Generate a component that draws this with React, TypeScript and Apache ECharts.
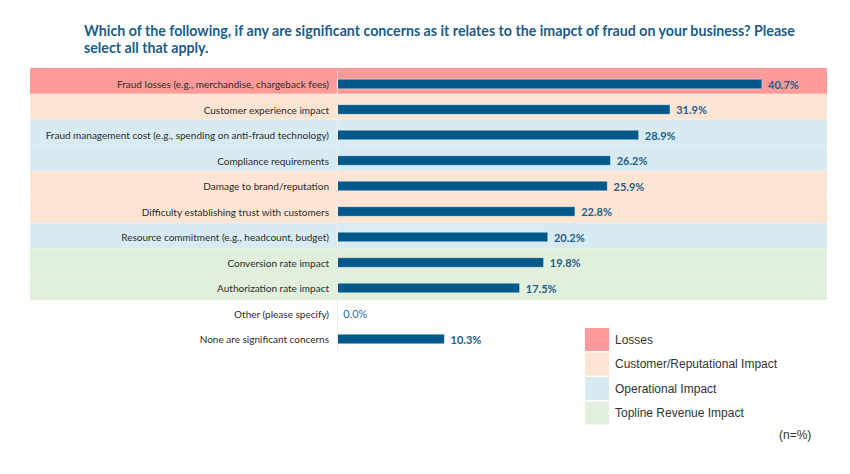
import React, { useEffect, useRef } from "react";
import * as echarts from "echarts";

const categories = [
  "Fraud losses (e.g., merchandise, chargeback fees)",
  "Customer experience impact",
  "Fraud management cost (e.g., spending on anti-fraud technology)",
  "Compliance requirements",
  "Damage to brand/reputation",
  "Difficulty establishing trust with customers",
  "Resource commitment (e.g., headcount, budget)",
  "Conversion rate impact",
  "Authorization rate impact",
  "Other (please specify)",
  "None are significant concerns",
];

const values = [40.7, 31.9, 28.9, 26.2, 25.9, 22.8, 20.2, 19.8, 17.5, 0.0, 10.3];

const groupNames = [
  "Losses",
  "Customer/Reputational Impact",
  "Operational Impact",
  "Topline Revenue Impact",
];
const groupColors = ["#FE9A99", "#FEE5D3", "#D8EBF3", "#E0F0DD"];
// group index for each category (-1 = none)
const categoryGroup = [0, 1, 2, 2, 1, 1, 2, 3, 3, -1, -1];

const titleText =
  "Which of the following, if any are significant concerns as it relates to the imapct of fraud on your business? Please\nselect all that apply.";
const noteText = "(n=%)";

export default function App() {
  const ref = useRef<HTMLDivElement>(null);
  useEffect(() => {
    if (!ref.current) return;
    const chart = echarts.init(ref.current, null, { renderer: "svg" });
    const bandSeries = groupNames.map((name, gi) => ({
      name,
      type: "bar",
      xAxisIndex: 0,
      yAxisIndex: 0,
      barWidth: "100%",
      barGap: "-100%",
      silent: true,
      z: 1,
      itemStyle: {
        color: groupColors[gi],
        borderColor: groupColors[gi],
        borderWidth: 1,
      },
      data: categories.map((_, i) => (categoryGroup[i] === gi ? 1 : "-")),
    }));
    chart.setOption({
      animation: false,
      backgroundColor: "#ffffff",
      title: {
        text: titleText,
        left: 84,
        top: 22,
        padding: 0,
        textStyle: {
          fontFamily: "Lato",
          fontSize: 14.2,
          fontWeight: "bold",
          color: "#1B5C87",
          lineHeight: 17,
        },
      },
      legend: {
        data: groupNames,
        orient: "vertical",
        left: 585,
        top: 328,
        padding: 0,
        itemWidth: 22,
        itemHeight: 21,
        itemGap: 1.5,
        icon: "rect",
        textStyle: {
          fontFamily: "Liberation Sans",
          fontSize: 12,
          color: "#333333",
          padding: [0, 0, 0, 2],
        },
        selectedMode: false,
      },
      grid: [
        { left: 30, width: 797, top: 68, height: 283.8 },
        { left: 337, width: 470, top: 71.25, height: 280.5 },
      ],
      xAxis: [
        { gridIndex: 0, type: "value", min: 0, max: 1, show: false },
        { gridIndex: 1, type: "value", min: 0, max: 45, show: false },
      ],
      yAxis: [
        {
          gridIndex: 0,
          type: "category",
          data: categories,
          inverse: true,
          show: false,
        },
        {
          gridIndex: 1,
          type: "category",
          data: categories,
          inverse: true,
          z: 5,
          axisTick: { show: false },
          axisLine: { show: true, lineStyle: { color: "#eeeeee", width: 1 } },
          axisLabel: {
            fontFamily: "Lato",
            fontSize: 10,
            color: "#2b2b2b",
            margin: 8,
          },
        },
      ],
      series: [
        ...bandSeries,
        {
          name: "Share",
          type: "bar",
          xAxisIndex: 1,
          yAxisIndex: 1,
          barWidth: 10,
          z: 3,
          itemStyle: { color: "#00598A", borderColor: "#ffffff", borderWidth: 0.4 },
          label: {
            show: true,
            position: "right",
            distance: 6,
            fontFamily: "Lato",
            fontSize: 11,
            fontWeight: "bold",
            color: "#1D5E8A",
            formatter: (p: any) => Number(p.value).toFixed(1) + "%",
          },
          data: values.map((v) =>
            v === 0
              ? { value: v, label: { fontWeight: "normal", color: "#2C6E9C" } }
              : v
          ),
        },
      ],
      graphic: [
        {
          type: "text",
          left: 779,
          top: 429,
          style: {
            text: noteText,
            fontFamily: "Liberation Sans",
            fontSize: 12,
            fill: "#333333",
          },
        },
      ],
    });
    return () => chart.dispose();
  }, []);
  return (
    <div
      ref={ref}
      style={{ position: "fixed", left: 0, top: 0, width: 850, height: 474 }}
    />
  );
}
